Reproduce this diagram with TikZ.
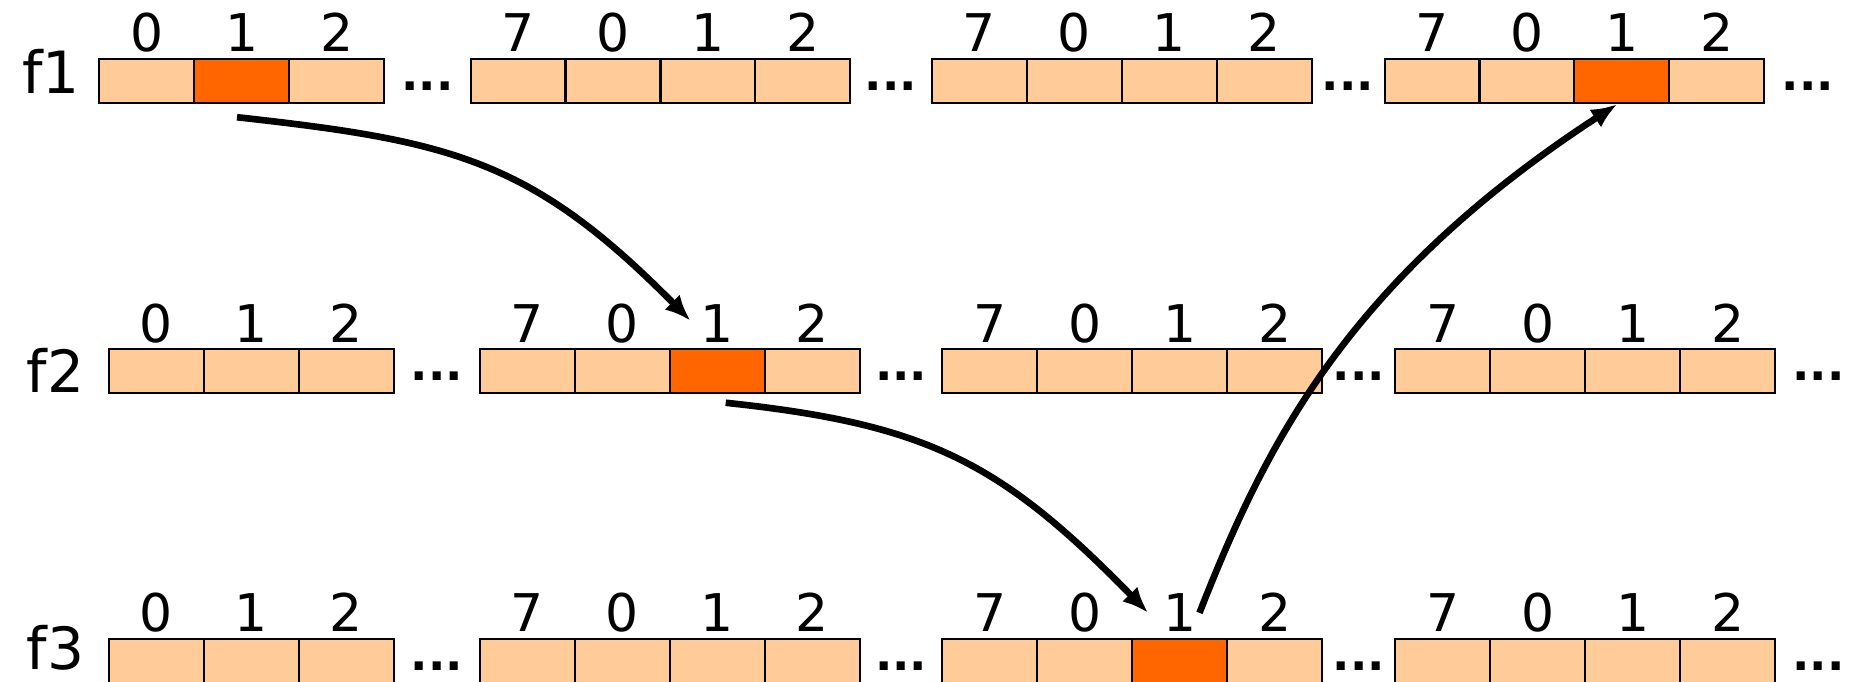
\documentclass[tikz,border=0pt]{standalone}
\usepackage{fontspec}
\setmainfont{DejaVu Sans}
\usetikzlibrary{arrows.meta,positioning,calc}
\definecolor{peach}{HTML}{FFCC99}
\definecolor{hotorange}{HTML}{FF6600}

\begin{document}
\begin{tikzpicture}[x=0.01cm,y=-0.01cm,
  cell/.style={draw,fill=peach,minimum width=0.803cm,minimum height=0.375cm,inner sep=0pt,line width=0.5pt},
  idx/.style={anchor=base,inner sep=0pt,font=\fontsize{12.5}{15}\selectfont},
  fname/.style={anchor=base west,inner sep=0pt,font=\fontsize{14}{16}\selectfont},
  gap/.style={anchor=base,inner sep=0pt,font=\fontsize{11}{13}\selectfont\bfseries},
  hop/.style={-{Latex[length=0.22cm,width=0.18cm]},line width=1.6pt},
  hot1-1-1/.style={fill=hotorange},
  hot1-4-2/.style={fill=hotorange},
  hot2-2-2/.style={fill=hotorange},
  hot3-3-2/.style={fill=hotorange}]
  \useasboundingbox (0,0) rectangle (1568,576);
  % three rows of slots, first group 0 1 2, then 7 0 1 2 three times
  \foreach \r/\y/\xa/\xb/\xc/\xd in {1/68.5/84/398/788/1171,2/314/92/406/797/1180,3/559/92/406/797/1180}{
    \foreach \c/\t in {0/0,1/1,2/2}{
      \node[cell,hot\r-1-\c/.try] (c\r-1-\c) at (\xa+\c*80.3+40.15,\y) {};
      \node[idx] (l\r-1-\c) at ([yshift=0.05cm]c\r-1-\c.north) {\t};
    }
    \foreach \g/\x in {2/\xb,3/\xc,4/\xd}{
      \foreach \c/\t in {0/7,1/0,2/1,3/2}{
        \node[cell,hot\r-\g-\c/.try] (c\r-\g-\c) at (\x+\c*80.3+40.15,\y) {};
        \node[idx] (l\r-\g-\c) at ([yshift=0.05cm]c\r-\g-\c.north) {\t};
      }
    }
    \node[gap] (d\r-1) at ($(c\r-1-2.east)!0.5!(c\r-2-0.west)+(0,8)$) {...};
    \node[gap] (d\r-2) at ($(c\r-2-3.east)!0.5!(c\r-3-0.west)+(0,8)$) {...};
    \node[gap] (d\r-3) at ($(c\r-3-3.east)!0.5!(c\r-4-0.west)+(0,8)$) {...};
    \node[gap] (d\r-4) at ($(c\r-4-3.east)+(36,8)$) {...};
  }
  \node[fname] (f1) at (18,79) {f1};
  \node[fname] (f2) at (22,332) {f2};
  \node[fname] (f3) at (22,566) {f3};
  % the hops
  \draw[hop] ($(c1-1-1.south)+(-4,11)$) .. controls +(180,20) and +(-135,-137) .. ($(l2-2-2.west)+(-8,-2)$);
  \draw[hop] ($(c2-2-2.south)+(7,7)$) .. controls +(170,18) and +(-125,-128) .. ($(l3-3-2.west)+(-12,0)$);
  \draw[hop] ($(l3-3-2.east)+(2,0)$) .. controls +(55,-140) and +(-230,150) .. ($(c1-4-2.south)+(-4,0)$);
\end{tikzpicture}
\end{document}
